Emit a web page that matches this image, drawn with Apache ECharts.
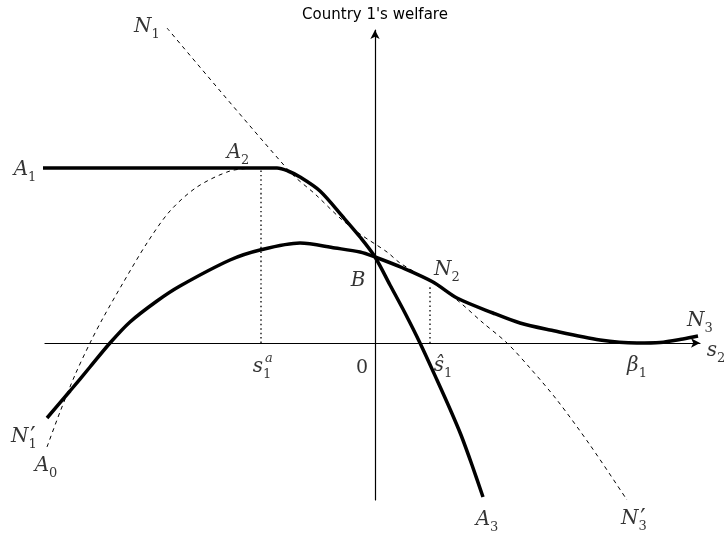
<!DOCTYPE html>
<html>
<head>
<meta charset="utf-8">
<script src="https://cdn.jsdelivr.net/npm/echarts@6/dist/echarts.min.js"></script>
<style>
  html, body { margin: 0; padding: 0; background: #fff; }
  #chart { width: 725px; height: 538px; }
</style>
</head>
<body>
<div id="chart"></div>
<script>
// curve points [s2, welfare], origin at the axes crossing
var aCurve = [[-333,175],[-98,175],[-87,172],[-75,166],[-55,152],[-32,126],[-15,106],[0,86],
  [15,58],[30,30],[45,0],[62,-37],[75,-66],[86,-92],[97,-122],[108,-154]];
var nCurve = [[-328,-75],[-305,-48],[-285,-24],[-265,0],[-245,21],[-218,42],[-195,57],[-145,83],
  [-115,93],[-75,100],[-40,95],[-15,91],[0,86],[28,75],[58,61],[82,45],[118,30],[145,20],
  [175,13],[225,3],[262,0],[285,0.5],[308,4],[323,7]];
var nDashed = [[-208,315],[-85,171],[-60,149],[-35,125],[-15,109],[12,91],[25,80],[55,62],
  [82,43],[107,21],[132,0],[155,-25],[182,-57],[215,-102],[252,-157]];
var aDashed = [[-328,-104],[-315,-69],[-300,-32],[-285,0],[-272,25],[-252,60],[-228,100],
  [-205,132],[-178,156],[-145,172],[-120,175]];
var dropSa = [[-114,0],[-114,175]];
var dropShat = [[55,0],[55,57]];

// label text: main symbol, subscript, anchor
var labels = [
  {m:'N', s:'1', at:[-228,314]},
  {m:'A', s:'1', at:[-350,171]},
  {m:'A', s:'2', at:[-137,188]},
  {m:'B', s:'', at:[-17,60]},
  {m:'s', s:'1', at:[-113,-26]},
  {m:'', s:'', r:'0', at:[-13,-25]},
  {m:'N', s:'2', at:[72,71]},
  {m:'ŝ', s:'1', at:[68,-25]},
  {m:'β', s:'1', at:[262,-25]},
  {m:'N', s:'3', at:[325,20]},
  {m:'s', s:'2', at:[341,-10]},
  {m:'N', s:'1', at:[-351,-96]},
  {m:'A', s:'0', at:[-329,-125]},
  {m:'A', s:'3', at:[112,-179]},
  {m:'N', s:'3', at:[259,-178]}
];
var sups = [
  {t:'a', at:[-106,-16], it:true},
  {t:'′', at:[-342,-95]},
  {t:'′', at:[268,-177]}
];

var chart = echarts.init(document.getElementById('chart'));

function curve(data, style) {
  return {
    type: 'line', data: data, showSymbol: false, symbol: 'none', clip: false,
    smooth: 0.3, lineStyle: style, z: 3
  };
}

var option = {
  animation: false,
  backgroundColor: '#fff',
  grid: { left: 45, right: 25, top: 30, bottom: 38 },
  xAxis: {
    type: 'value', min: -330, max: 325,
    axisLine: { onZero: true, symbol: ['none', 'arrow'], symbolSize: [7, 9],
      lineStyle: { color: '#000', width: 1.2 } },
    axisTick: { show: false }, axisLabel: { show: false }, splitLine: { show: false }
  },
  yAxis: {
    type: 'value', min: -157, max: 313,
    name: "Country 1's welfare", nameLocation: 'end', nameGap: 7,
    nameTextStyle: { fontFamily: 'DejaVu Sans', fontSize: 15, color: '#000' },
    axisLine: { onZero: true, symbol: ['none', 'arrow'], symbolSize: [7, 9],
      lineStyle: { color: '#000', width: 1.2 } },
    axisTick: { show: false }, axisLabel: { show: false }, splitLine: { show: false }
  },
  series: [
    curve(nDashed, { color: '#000', width: 1, type: [4, 4] }),
    curve(aDashed, { color: '#000', width: 1, type: [4, 4] }),
    curve(dropSa, { color: '#000', width: 1.3, type: [1.5, 3] }),
    curve(dropShat, { color: '#000', width: 1.3, type: [1.5, 3] }),
    curve(aCurve, { color: '#000', width: 3.5 }),
    curve(nCurve, { color: '#000', width: 3.5 }),
    {
      type: 'scatter', symbolSize: 0, clip: false, z: 5,
      data: labels.map(function (d) { return { value: d.at, lb: d }; }),
      label: {
        show: true, position: 'inside', color: '#000',
        formatter: function (p) {
          var d = p.data.lb;
          if (d.r) return '{r|' + d.r + '}';
          return '{m|' + d.m + '}' + (d.s ? '{s|' + d.s + '}' : '');
        },
        rich: {
          m: { fontFamily: 'DejaVu Serif', fontStyle: 'italic', fontSize: 20, color: '#000',
            verticalAlign: 'bottom', padding: [0, 0, 5, 0] },
          s: { fontFamily: 'DejaVu Serif', fontSize: 13, color: '#000', verticalAlign: 'bottom' },
          r: { fontFamily: 'DejaVu Serif', fontSize: 19, color: '#000' }
        }
      }
    },
    {
      type: 'scatter', symbolSize: 0, clip: false, z: 5,
      data: sups.map(function (d) { return { value: d.at, name: d.t, it: d.it }; }),
      label: {
        show: true, position: 'inside', color: '#000',
        formatter: function (p) { return p.data.it ? '{i|' + p.name + '}' : '{p|' + p.name + '}'; },
        rich: {
          i: { fontFamily: 'DejaVu Serif', fontStyle: 'italic', fontSize: 13, color: '#000' },
          p: { fontFamily: 'DejaVu Serif', fontSize: 24, color: '#000' }
        }
      }
    }
  ]
};

chart.setOption(option);
</script>
</body>
</html>
